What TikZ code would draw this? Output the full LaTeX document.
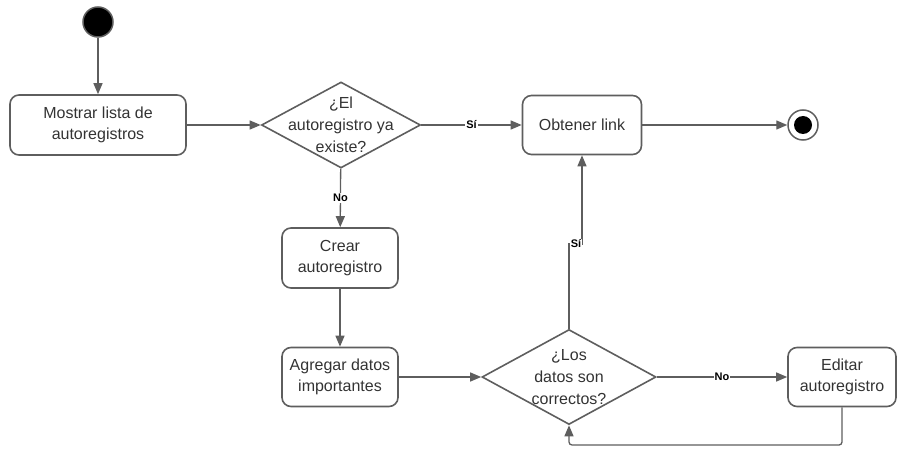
\documentclass[tikz,border=0pt]{standalone}
\usepackage{fontspec}
\setmainfont{Liberation Sans}
\usetikzlibrary{shapes.geometric,arrows.meta}
\definecolor{linegray}{HTML}{5E5E5E}
\definecolor{textgray}{HTML}{333333}
\tikzset{
	act/.style = {draw = linegray, line width = 1.6pt, rounded corners = 9pt, align = center,
		text = textgray, font = \fontsize{16}{21}\selectfont, inner sep = 0pt},
	dec/.style = {diamond, draw = linegray, line width = 1.6pt, inner sep = 0pt},
	dectext/.style = {align = center, text = textgray, font = \fontsize{16}{22}\selectfont},
	arr/.style = {draw = linegray, line width = 1.3pt, -{Triangle[length = 11pt, width = 9pt]}},
	lbl/.style = {fill = white, inner sep = 1pt, font = \fontsize{11}{12}\selectfont\bfseries, text = black}
}
\begin{document}
\begin{tikzpicture}[x = 1pt, y = -1pt]
	\useasboundingbox (0,0) rectangle (897,449);
	% start and end
	\node [circle, fill = black, draw = linegray, line width = 1.5pt, minimum size = 30pt, inner sep = 0pt] (start) at (98,22) {};
	\node [circle, draw = linegray, line width = 1.5pt, minimum size = 30pt, inner sep = 0pt] (stop) at (803,125) {};
	\fill [black] (stop) circle (9pt);
	% activities
	\node [act, minimum width = 176pt, minimum height = 60pt] (lista) at (98,125) {Mostrar lista de\\autoregistros};
	\node [act, minimum width = 119pt, minimum height = 59pt] (link) at (582,125) {Obtener link};
	\node [act, minimum width = 116pt, minimum height = 60pt] (crear) at (340,258) {Crear\\autoregistro};
	\node [act, minimum width = 116pt, minimum height = 59pt] (datos) at (340,377) {Agregar datos\\importantes};
	\node [act, minimum width = 108pt, minimum height = 59pt] (editar) at (842,377) {Editar\\autoregistro};
	% decisions
	\node [dec, minimum width = 159pt, minimum height = 86pt] (existe) at (341,125) {};
	\node [dectext] at (existe) {¿El\\autoregistro ya\\existe?};
	\node [dec, minimum width = 174pt, minimum height = 95pt] (correcto) at (569,377) {};
	\node [dectext] at (correcto) {¿Los\\datos son\\correctos?};
	% connectors
	\coordinate (jog) at (576,244);
	\coordinate (back) at (569,445);
	\draw [arr] (start) -- (lista);
	\draw [arr] (lista) -- (existe);
	\draw [arr] (existe) -- node [lbl] {Sí} (link);
	\draw [arr] (link) -- (stop);
	\draw [arr] (existe) -- node [lbl] {No} (crear);
	\draw [arr] (crear) -- (datos);
	\draw [arr] (datos) -- (correcto);
	\draw [arr] (correcto.east) -- node [lbl] {No} (editar);
	\draw [arr] (correcto.north) |- (jog) node [lbl] {Sí} -| (link.south);
	\draw [arr, rounded corners = 3pt] (editar.south) |- (back) -- (correcto.south);
\end{tikzpicture}
\end{document}
